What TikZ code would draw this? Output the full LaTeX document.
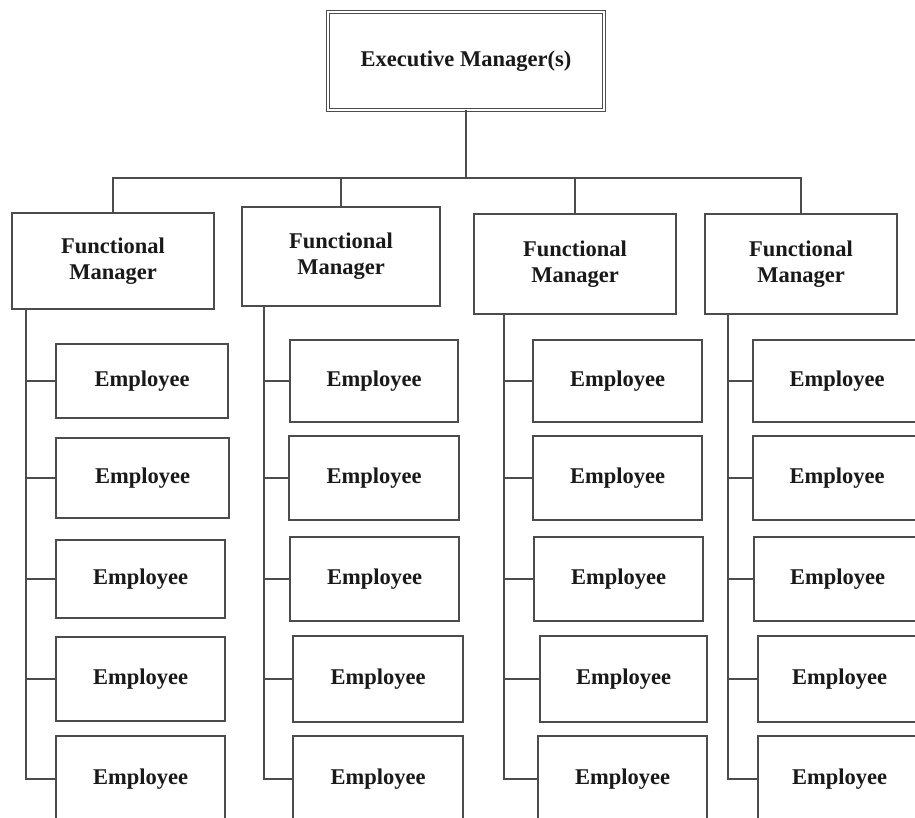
\documentclass[tikz,border=0pt]{standalone}
\usepackage{fontspec}
\setmainfont{Liberation Serif}
\begin{document}
\begin{tikzpicture}[x=1pt,y=-1pt,
  boxline/.style={draw=black!70,line width=1.4pt},
  txt/.style={text=black!90,font=\fontsize{22.5}{26}\selectfont\bfseries},
  emp/.style={boxline,txt,rectangle,inner sep=0pt,outer sep=0pt,anchor=center},
  fmbox/.style={boxline,txt,rectangle,inner sep=0pt,outer sep=0pt,align=center,anchor=center},
  execbox/.style={draw=black!70,line width=0.9pt,double=white,double distance=1.8pt,txt,rectangle,inner sep=0pt,outer sep=0pt,anchor=center},
  conn/.style={draw=black!70,line width=1.4pt}]
\useasboundingbox (0,0) rectangle (915,818);
\clip (0,0) rectangle (915,818);
\fill[white] (0,0) rectangle (915,818);
% executive
\node[execbox,minimum width=276pt,minimum height=98pt] (exec) at (466,61) {Executive Manager(s)};
% functional managers
\foreach \n/\xa/\xb/\ya/\yb in {1/12/214/213/309, 2/242/440/207/306, 3/474/676/214/314, 4/705/897/214/314}{
  \node[fmbox,minimum width={(\xb-\xa)*1pt},minimum height={(\yb-\ya)*1pt}] (fm\n) at ({(\xa+\xb)/2},{(\ya+\yb)/2}) {Functional\\Manager};
}
% employees
\foreach \n/\xa/\xb/\ya/\yb in {
  11/56/228/344/418, 12/56/229/438/518, 13/56/225/540/618, 14/56/225/637/721, 15/56/225/736/822,
  21/290/458/340/422, 22/289/459/436/520, 23/290/459/537/621, 24/293/463/636/722, 25/293/463/736/822,
  31/533/702/340/422, 32/533/702/436/520, 33/534/703/537/621, 34/540/707/636/722, 35/538/707/736/822,
  41/753/921/340/422, 42/753/921/436/520, 43/754/921/537/621, 44/758/921/636/722, 45/758/921/736/822}{
  \node[emp,minimum width={(\xb-\xa)*1pt},minimum height={(\yb-\ya)*1pt}] (e\n) at ({(\xa+\xb)/2},{(\ya+\yb)/2}) {Employee};
}
% top connectors
\coordinate (bar) at (466,178);
\draw[conn] (exec.south) -- (exec.south |- bar);
\draw[conn] (fm1.north) -- (fm1.north |- bar) -- (fm4.north |- bar) -- (fm4.north);
\draw[conn] (fm2.north) -- (fm2.north |- bar);
\draw[conn] (fm3.north) -- (fm3.north |- bar);
% trunks
\coordinate (t1) at (26,0);
\coordinate (t2) at (264,0);
\coordinate (t3) at (504,0);
\coordinate (t4) at (728,0);
\foreach \c in {1,2,3,4}{
  \draw[conn] (fm\c.south -| t\c) |- (e\c5.west);
  \foreach \k in {1,2,3,4}{
    \draw[conn] (e\c\k.west -| t\c) -- (e\c\k.west);
  }
}
\end{tikzpicture}
\end{document}
